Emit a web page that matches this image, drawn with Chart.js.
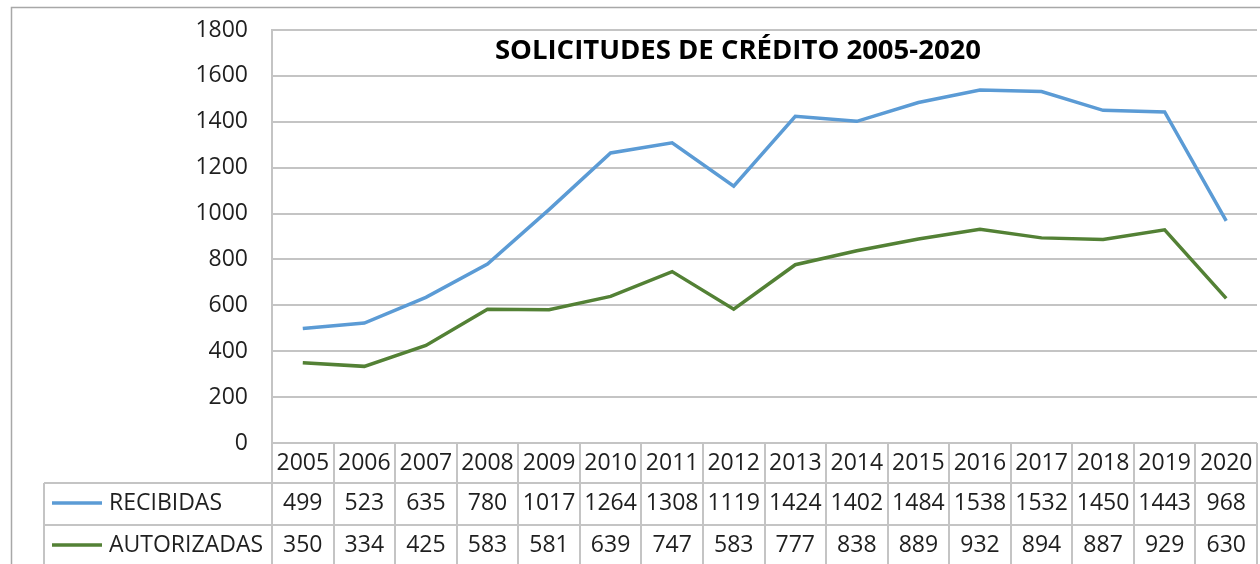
<!DOCTYPE html>
<html>
<head>
<meta charset="utf-8">
<script src="https://cdn.jsdelivr.net/npm/chart.js@4"></script>
<style>
  html, body { margin: 0; padding: 0; background: #fff; }
  #wrap { position: relative; width: 1260px; height: 564px; }
</style>
</head>
<body>
<div id="wrap"><canvas id="chartLine" width="1260" height="564"></canvas></div>
<script>
const years = ["2005", "2006", "2007", "2008", "2009", "2010", "2011", "2012",
               "2013", "2014", "2015", "2016", "2017", "2018", "2019", "2020"];
const recibidas = [499, 523, 635, 780, 1017, 1264, 1308, 1119, 1424, 1402, 1484, 1538, 1532, 1450, 1443, 968];
const autorizadas = [350, 334, 425, 583, 581, 639, 747, 583, 777, 838, 889, 932, 894, 887, 929, 630];
const seriesNames = ["RECIBIDAS", "AUTORIZADAS"];
const yTicks = [0, 200, 400, 600, 800, 1000, 1200, 1400, 1600, 1800];
const chartTitle = "SOLICITUDES DE CRÉDITO 2005-2020";

const FONT = "'Open Sans', 'Noto Sans', sans-serif";
const GRID = "#c4c4c4";
const TEXT = "#1f1f1f";

// marco exterior + titulo + tabla de datos debajo del grafico
const tablePlugin = {
    id: "dataTable",
    beforeDraw(chart) {
        const ctx = chart.ctx;
        ctx.save();
        ctx.strokeStyle = "#a8a8a8";
        ctx.lineWidth = 1.5;
        ctx.beginPath();
        ctx.moveTo(11.5, chart.height);
        ctx.lineTo(11.5, 7.5);
        ctx.lineTo(chart.width, 7.5);
        ctx.stroke();
        ctx.restore();
    },
    afterDraw(chart) {
        const ctx = chart.ctx;
        const area = chart.chartArea;
        const xs = chart.scales.x;
        const colW = xs.getPixelForValue(1) - xs.getPixelForValue(0);
        const left = xs.getPixelForValue(0) - colW / 2;
        const right = left + colW * years.length;
        const top = area.bottom;
        const row1 = top + 40;
        const row2 = top + 82;
        const bottom = chart.height;
        const legendLeft = 44;

        ctx.save();
        // titulo
        ctx.fillStyle = "#000";
        ctx.font = "bold 27.5px " + FONT;
        ctx.textAlign = "center";
        ctx.textBaseline = "middle";
        ctx.fillText(chartTitle, 738, 51);

        // lineas de la tabla
        ctx.strokeStyle = GRID;
        ctx.lineWidth = 2;
        ctx.beginPath();
        for (let i = 0; i <= years.length; i++) {
            const x = Math.round(left + i * colW);
            ctx.moveTo(x, top);
            ctx.lineTo(x, bottom);
        }
        ctx.moveTo(left, top);
        ctx.lineTo(right, top);
        ctx.moveTo(legendLeft, row1);
        ctx.lineTo(right, row1);
        ctx.moveTo(legendLeft, row2);
        ctx.lineTo(right, row2);
        ctx.moveTo(legendLeft, row1);
        ctx.lineTo(legendLeft, bottom);
        ctx.stroke();

        // textos
        ctx.fillStyle = TEXT;
        ctx.font = "23px " + FONT;
        ctx.textAlign = "center";
        ctx.textBaseline = "middle";
        const rows = [recibidas, autorizadas];
        const rowY = [top + 60, top + 102];
        years.forEach((y, i) => {
            const cx = xs.getPixelForValue(i);
            ctx.fillText(y, cx, top + 20);
            rows.forEach((vals, r) => ctx.fillText(String(vals[i]), cx, rowY[r]));
        });

        // leyenda dentro de la tabla
        chart.data.datasets.forEach((ds, r) => {
            ctx.strokeStyle = ds.borderColor;
            ctx.lineWidth = 3.5;
            ctx.beginPath();
            ctx.moveTo(52, rowY[r]);
            ctx.lineTo(102, rowY[r]);
            ctx.stroke();
            ctx.textAlign = "left";
            ctx.fillText(seriesNames[r], 109, rowY[r]);
        });
        ctx.restore();
    }
};

document.addEventListener("DOMContentLoaded", function () {
    const data = {
        labels: years,
        datasets: [
            {
                label: seriesNames[0],
                data: recibidas,
                borderColor: "#5b9bd5",
                backgroundColor: "#5b9bd5",
                borderWidth: 3.5,
                pointRadius: 0,
                tension: 0,
            },
            {
                label: seriesNames[1],
                data: autorizadas,
                borderColor: "#538135",
                backgroundColor: "#538135",
                borderWidth: 3.5,
                pointRadius: 0,
                tension: 0,
            },
        ],
    };

    const config = {
        type: "line",
        data: data,
        options: {
            responsive: false,
            animation: false,
            layout: {
                padding: { top: 30, bottom: 121, right: 3, left: 0 },
            },
            plugins: {
                legend: { display: false },
                title: { display: false },
                tooltip: { enabled: false },
            },
            scales: {
                x: {
                    type: "category",
                    offset: true,
                    display: false,
                },
                y: {
                    min: yTicks[0],
                    max: yTicks[yTicks.length - 1],
                    afterBuildTicks: (scale) => {
                        scale.ticks = yTicks.map((v) => ({ value: v }));
                    },
                    afterFit: (scale) => {
                        scale.width = 272;
                        scale.paddingTop = 0;
                        scale.paddingBottom = 0;
                    },
                    border: { display: true, color: GRID, width: 2 },
                    grid: { color: GRID, lineWidth: 2, drawTicks: false },
                    ticks: {
                        padding: 24,
                        color: TEXT,
                        font: { family: FONT, size: 23 },
                        callback: (v) => String(v),
                    },
                },
            },
        },
        plugins: [tablePlugin],
    };

    const el = document.getElementById("chartLine");
    if (el) {
        new Chart(el, config);
    }
});
</script>
</body>
</html>
